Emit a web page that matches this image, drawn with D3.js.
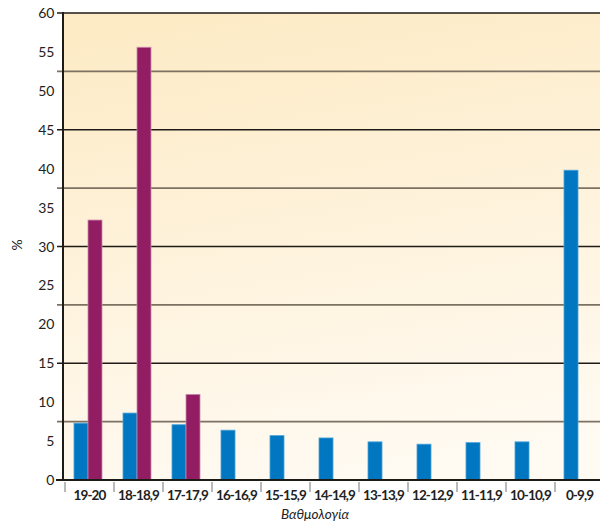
<!DOCTYPE html>
<html><head><meta charset="utf-8">
<script src="https://cdn.jsdelivr.net/npm/d3@7"></script>
<style>body{margin:0;background:#fff}svg{display:block}</style>
</head><body>
<svg id="c" width="600" height="524"></svg>
<script>
const categories = ["19-20","18-18,9","17-17,9","16-16,9","15-15,9","14-14,9","13-13,9","12-12,9","11-11,9","10-10,9","0-9,9"];
const seriesBlue = [7.3, 8.6, 7.1, 6.4, 5.7, 5.4, 4.9, 4.6, 4.8, 4.9, 39.8];
const seriesPurple = [33.4, 55.6, 11.0, 0, 0, 0, 0, 0, 0, 0, 0];
const yTickLabels = [0,5,10,15,20,25,30,35,40,45,50,55,60];
const gridValues = [7.5,15,22.5,30,37.5,45,52.5,60];
const yTitle = "%";
const xTitle = "Βαθμολογία";

(function(){
const svg = d3.select("#c");
const mLeft = 63, mTop = 13, mBottom = 480, mRight = 604;
const x = d3.scaleBand().domain(categories).range([65, mRight]).padding(0);
const sub = d3.scaleBand().domain(["blue","purple"]).range([9, 37]).padding(0);
const y = d3.scaleLinear().domain([0,60]).range([mBottom, mTop]);

const defs = svg.append("defs");
const grad = defs.append("linearGradient").attr("id","bg").attr("x1","0.3").attr("y1","0").attr("x2","0.5").attr("y2","1");
grad.append("stop").attr("offset","0").attr("stop-color","#fdebc6");
grad.append("stop").attr("offset","1").attr("stop-color","#fffaf2");
svg.append("rect").attr("x",mLeft).attr("y",mTop).attr("width",600-mLeft).attr("height",mBottom-mTop).attr("fill","url(#bg)");

svg.append("g").selectAll("line").data(gridValues).join("line")
  .attr("x1", mLeft-6).attr("x2", 600)
  .attr("y1", d=>y(d)).attr("y2", d=>y(d))
  .attr("stroke", (d,i)=> i%2===0 ? "#7d7262" : "#1e1a16")
  .attr("stroke-width", (d,i)=> i%2===0 ? 1.6 : 1.3);

const data = categories.map((c,i)=>({c, blue: seriesBlue[i], purple: seriesPurple[i]}));
const g = svg.append("g");
data.forEach(d=>{
  [["blue","#0077c0","#4aa2d8"],["purple","#931d62","#c98ab0"]].forEach(([k,col,st])=>{
    if (d[k] > 0) {
      g.append("rect")
        .attr("x", x(d.c)+sub(k)).attr("width", sub.bandwidth())
        .attr("y", y(d[k])).attr("height", y(0)-y(d[k]))
        .attr("fill", col).attr("stroke", st).attr("stroke-width", 0.8);
    }
  });
});

svg.append("line").attr("x1",mLeft).attr("x2",mLeft).attr("y1",mTop-1).attr("y2",mBottom+1).attr("stroke","#1e1a16").attr("stroke-width",2);
svg.append("line").attr("x1",mLeft-7).attr("x2",600).attr("y1",mBottom).attr("y2",mBottom).attr("stroke","#1e1a16").attr("stroke-width",2);

svg.append("g").selectAll("text").data(yTickLabels).join("text")
  .attr("x", 54).attr("y", d=>y(d)).attr("dy","0.36em")
  .attr("text-anchor","end").attr("font-family","Lato, sans-serif").attr("font-size",14).attr("letter-spacing","-0.3").attr("fill","#222")
  .text(d=>d);

const bounds = categories.map(c=>x(c));
svg.append("g").selectAll("line").data(bounds).join("line")
  .attr("x1", d=>d).attr("x2", d=>d).attr("y1", mBottom+2).attr("y2", mBottom+12)
  .attr("stroke","#8a8a8a").attr("stroke-width",1.2);

svg.append("g").selectAll("text").data(categories).join("text")
  .attr("x", d=>x(d)+x.bandwidth()/2).attr("y", 500)
  .attr("text-anchor","middle").attr("font-family","Lato, sans-serif").attr("font-weight","bold")
  .attr("font-size",13.5).attr("letter-spacing","-0.9").attr("fill","#222")
  .text(d=>d);

svg.append("text").attr("transform","translate(22,245) rotate(-90)")
  .attr("text-anchor","middle").attr("font-family","Lato, sans-serif").attr("font-size",14).attr("fill","#222").text(yTitle);
svg.append("text").attr("x",315).attr("y",519).attr("text-anchor","middle")
  .attr("font-family","Lato, sans-serif").attr("font-style","italic").attr("font-size",13.5).attr("fill","#222").text(xTitle);
})();
</script>
</body></html>
